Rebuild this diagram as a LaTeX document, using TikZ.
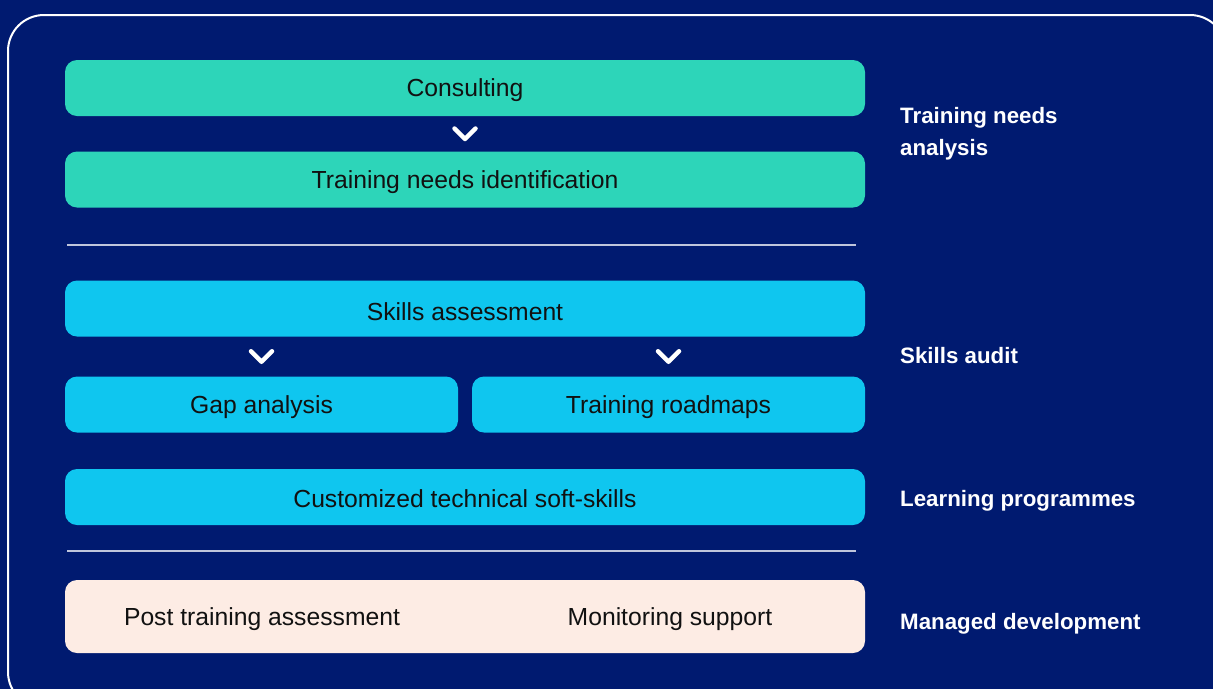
\documentclass[tikz,border=0pt]{standalone}
\usepackage{fontspec}
\setmainfont{Liberation Sans}
\usetikzlibrary{calc}
\definecolor{navy}{HTML}{001A70}
\definecolor{mint}{HTML}{2DD5B9}
\definecolor{sky}{HTML}{0FC6EF}
\definecolor{peach}{HTML}{FDECE4}
\definecolor{ink}{HTML}{111111}
\begin{document}
\begin{tikzpicture}[x=1pt,y=-1pt,
  boxbase/.style={rounded corners=12pt, inner sep=0pt, draw=none,
    text=ink, font=\fontsize{24.7}{28}\selectfont, text height=17.7pt, text depth=0pt,
    minimum height=56pt},
  mintbox/.style={boxbase, fill=mint},
  skybox/.style={boxbase, fill=sky},
  peachbox/.style={boxbase, fill=peach},
  intext/.style={inner sep=0pt, text=ink, font=\fontsize{24.7}{28}\selectfont, text height=17.7pt, text depth=0pt},
  sidelabel/.style={anchor=west, inner sep=0pt, text=white, font=\bfseries\fontsize{22.3}{26}\selectfont, text height=16pt, text depth=0pt},
  sepline/.style={draw=white, draw opacity=0.75, line width=1.2pt},
  chevline/.style={draw=white, line width=4.5pt, line cap=round, line join=round},
  chev/.pic={\draw[chevline] (-10.5,-5.25) -- (0,5.25) -- (10.5,-5.25);}
]
\useasboundingbox (0,0) rectangle (1213,689);
\clip (0,0) rectangle (1213,689);
\fill[navy] (0,0) rectangle (1213,689);
\draw[white, line width=2pt, rounded corners=36pt] (8,15) rectangle (1226,708);

% Training needs analysis
\node[mintbox, minimum width=800pt] (consult) at (465,88) {Consulting};
\node[mintbox, minimum width=800pt] (tni) at (465,179.5) {Training needs identification};
\pic at ($(consult.south)!0.5!(tni.north)$) {chev};

\draw[sepline] (67,245) -- (856,245);

% Skills audit
\node[skybox, minimum width=800pt] (skills) at (465,308.5) {\raisebox{-3.5pt}{Skills assessment}};
\node[skybox, minimum width=393pt] (gap) at (261.5,404.5) {Gap analysis};
\node[skybox, minimum width=393pt] (road) at (668.5,404.5) {Training roadmaps};
\pic at ($(skills.south -| gap.north)!0.5!(gap.north)$) {chev};
\pic at ($(skills.south -| road.north)!0.5!(road.north)$) {chev};

% Learning programmes
\node[skybox, minimum width=800pt] (custom) at (465,497) {\raisebox{-1.5pt}{Customized technical soft-skills}};

\draw[sepline] (67,551) -- (856,551);

% Managed development
\node[peachbox, minimum width=800pt, minimum height=73pt] (managed) at (465,616.5) {};
\node[intext] (post) at (262,616.5) {Post training assessment};
\node[intext] (monitor) at (670,616.5) {Monitoring support};

% Side labels
\node[sidelabel] (lab1a) at (900,115) {Training needs};
\node[sidelabel] (lab1b) at (900,147) {analysis};
\node[sidelabel] (lab2) at (900,355) {Skills audit};
\node[sidelabel] (lab3) at (900,498) {Learning programmes};
\node[sidelabel] (lab4) at (900,621) {Managed development};
\end{tikzpicture}
\end{document}
